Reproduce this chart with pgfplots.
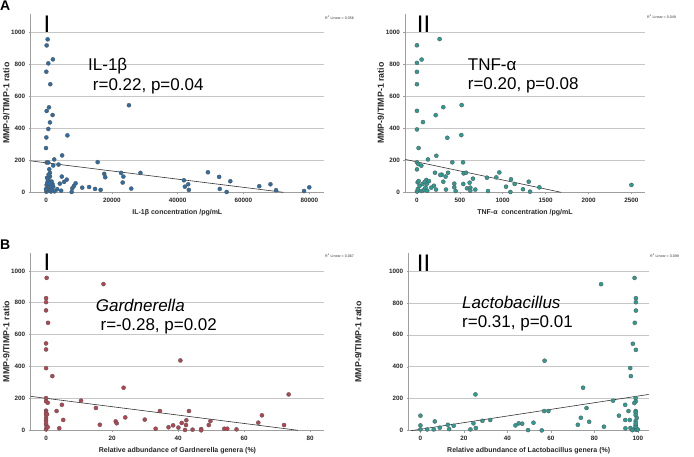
\documentclass[border=0pt]{standalone}
\usepackage{pgfplots}
\pgfplotsset{compat=1.18}
\usepackage{fontspec}
\setmainfont{Liberation Sans}
\definecolor{ptblue}{HTML}{2A6EA8}
\definecolor{ptteal}{HTML}{2A9D94}
\definecolor{ptred}{HTML}{B8434F}
\pgfplotsset{
  spss/.style={
    scale only axis,
    anchor=south west,
    axis x line*=bottom, axis y line*=left,
    axis line style={gray!75, line width=0.6pt},
    ymin=0, ymax=1112,
    ytick={0,200,400,600,800,1000},
    ymajorgrids, grid style={gray!45, line width=0.6pt},
    tick align=outside, major tick length=2pt, tick style={gray!75, line width=0.5pt},
    /pgf/number format/assume math mode=true,
    ticklabel style={font=\fontsize{6.3}{7}\selectfont\bfseries, text=black!85},
    xticklabel style={/pgf/number format/fixed,/pgf/number format/1000 sep={}},
    yticklabel style={/pgf/number format/1000 sep={}},
    scaled ticks=false,
    label style={font=\fontsize{7}{8}\selectfont\bfseries, text=black!85},
    ylabel style={at={(axis description cs:0,0.5)}, anchor=center, yshift=24.5pt, font=\fontsize{8.8}{9}\selectfont\bfseries},
    ylabel={MMP-9/TIMP-1 ratio},
    clip=false,
  },
  pts/.style={only marks, mark=*, mark size=2.05pt, mark options={fill=#1, draw=black!65, line width=0.35pt}},
  fit/.style={black!80, line width=0.6pt, no marks},
}
\begin{document}
\begin{tikzpicture}[x=1pt,y=1pt]
% ---------------- A-I ----------------
\begin{axis}[spss, at={(30.7pt,263.7pt)}, width=293.3pt, height=178.3pt,
  xmin=-4650, xmax=84470, xtick={0,20000,40000,60000,80000},
  xlabel={IL-1β concentration /pg/mL}]
\addplot[fit] coordinates {(-4650,196) (72100,0)};
\addplot[pts=ptblue] coordinates {
(500,954) (200,916) (700,804) (2100,829) (100,752) (1300,674) (200,507) (900,530)
(2000,482) (1200,436) (700,395) (100,342) (0,276) (6500,355) (25200,543) (200,186)
(700,186) (4900,230) (2500,205) (3800,173) (2200,167) (1000,144) (1200,121) (15700,188)
(17700,115) (18000,94) (22800,121) (23500,98) (28700,121) (23300,61) (25900,23) (4800,98)
(6300,79) (4200,54) (5500,65) (9000,56) (8500,40) (8000,25) (7800,2) (11000,29)
(13100,33) (14900,21) (16600,15) (3400,19) (4600,10) (2600,6)
(200,46) (500,25) (700,80) (1200,98) (1700,67) (1000,10) (100,4) (2200,35) (400,60)
(900,40) (1400,31) (2000,50) (300,15) (600,70) (1500,5) (800,110) (0,20) (300,90)
(1100,55) (1800,15)
(41900,75) (42200,35) (43200,50) (43400,15) (49200,125) (52600,96) (52800,21) (54900,2)
(56000,69) (64800,38) (68200,50) (69900,13) (78400,8) (80000,31)
};
\end{axis}
% ---------------- A-II ----------------
\begin{axis}[spss, at={(405.3pt,263.7pt)}, width=239.4pt, height=178.3pt,
  xmin=-136, xmax=2655, xtick={0,500,1000,1500,2000,2500},
  xlabel={TNF-α\ \ concentration /pg/mL}]
\addplot[fit] coordinates {(-136,205) (1680,0)};
\addplot[pts=ptteal] coordinates {
(264,956) (0,917) (0,807) (54,828) (0,751) (0,674) (0,508) (307,531) (521,544) (218,481)
(70,438) (0,392) (19,276) (517,357) (354,340) (226,228) (128,205) (0,187) (16,176) (51,166)
(0,143) (412,187) (537,187) (210,122) (288,110) (362,122) (334,98) (307,66) (272,108)
(544,118) (572,122) (960,124) (1096,81) (1139,52) (1038,35) (816,91) (925,93) (653,85)
(614,60) (540,52) (435,54) (435,31) (198,41) (109,77) (117,54) (66,52) (8,62) (16,12)
(58,8) (167,29) (222,17) (338,17) (451,8) (583,25) (622,29) (680,17) (828,8) (1089,2)
(1236,19) (1303,66) (1318,4) (1427,31) (2500,46) (622,10)
(0,5) (10,20) (30,40) (80,15) (100,30) (120,10) (140,70) (20,70) (90,65)
};
\end{axis}
% ---------------- B-I ----------------
\begin{axis}[spss, at={(30.7pt,25.7pt)}, width=293.6pt, height=177.3pt,
  xmin=-4.65, xmax=84.3, xtick={0,20,40,60,80},
  xlabel={Relative adbundance of Gardnerella genera (\%)}]
\addplot[fit] coordinates {(-4.65,213) (76.3,0)};
\addplot[pts=ptred] coordinates {
(0.2,956) (17.4,917) (0,829) (0,804) (0,752) (0.6,674) (0,545) (0,507) (0,390) (1.9,340)
(40.7,438) (23.5,267) (73.5,225) (0,202) (0,182) (0.5,173) (10.6,186) (15.1,140) (4.8,160)
(3.2,121) (0,123) (0,113) (0,98) (0,77) (0,61) (0,35) (0.2,19) (0,6) (5.2,65) (4,13)
(16.3,35) (21.1,56) (21.4,44) (24,81) (29.9,67) (33.2,10) (34.5,121) (37.1,19) (38.5,31)
(40.1,17) (41.1,46) (42.5,63) (42.4,33) (42.1,2) (43.3,121) (44.4,4) (47,8) (47,0)
(49.3,33) (49.8,58) (54,10) (54.9,10) (57.7,6) (64.3,48) (65.4,94) (72.1,33)
(0.5,20) (0,45) (0.3,100)
};
\end{axis}
% ---------------- B-II ----------------
\begin{axis}[spss, at={(408.7pt,25.3pt)}, width=240pt, height=177.7pt,
  xmin=-5.4, xmax=105, xtick={0,20,40,60,80,100},
  xlabel={Relative adbundance of Lactobacillus genera (\%)},
  ylabel style={yshift=26pt}]
\addplot[fit] coordinates {(-4.3,0) (105,227)};
\addplot[pts=ptteal] coordinates {
(98.5,956) (83.1,917) (99.1,829) (99.1,804) (99.1,752) (98.6,675) (97.7,544) (99.1,506)
(96.5,392) (96.8,342) (57.1,438) (74.8,269) (25.3,227) (88.6,188) (99,204) (99,183)
(98.4,173) (94.2,162) (56.9,123) (58.9,123) (76.4,142) (95.7,123) (99,123) (99,113)
(99,98) (99,60) (99,35) (99,15) (91.3,94) (94.2,67) (96.3,67) (77.6,56) (73.8,81)
(72.4,37) (84.4,25) (94.3,15) (96.6,17) (0,94) (0,33) (0,8) (3.1,8) (6.6,58) (6.1,8)
(8.9,19) (12.6,37) (13.2,10) (15.3,31) (23,8) (24.4,46) (25.5,17) (28.5,62) (32.1,67)
(43.7,33) (45.2,46) (46.8,44) (49.5,4) (52,50) (55.8,2)
(98.5,10) (99.5,5) (100,8) (97.5,3) (99,25) (99,45) (99.5,80)
};
\end{axis}
% ---------------- texts ----------------
\node[anchor=north west, font=\fontsize{14}{15}\selectfont\bfseries, inner sep=0pt] at (0pt,455pt) {A};
\node[anchor=north west, font=\fontsize{14}{15}\selectfont\bfseries, inner sep=0pt] at (0pt,216pt) {B};
\tikzset{bigI/.style={anchor=base, font=\fontsize{24}{25}\selectfont, inner sep=0pt},
         big/.style={anchor=base west, font=\fontsize{17}{18}\selectfont, inner sep=0pt},
         rsq/.style={anchor=west, font=\fontsize{3.6}{4}\selectfont, inner sep=0pt, text=black!80}}
\node[bigI] at (47pt,423pt) {I};
\node[bigI] at (423.5pt,423pt) {II};
\node[bigI] at (47pt,185.5pt) {I};
\node[bigI] at (423.5pt,185pt) {II};
\node[big] at (88pt,385.3pt) {IL-1β};
\node[big] at (88pt,365.3pt) {\ r=0.22, p=0.04};
\node[big] at (467.7pt,385.3pt) {TNF-α};
\node[big] at (467.7pt,366.7pt) {r=0.20, p=0.08};
\node[big] at (95.7pt,144.7pt) {\itshape Gardnerella};
\node[big] at (95.7pt,125.7pt) {\ r=-0.28, p=0.02};
\node[big] at (462pt,148pt) {\itshape Lactobacillus};
\node[big] at (462pt,129pt) {r=0.31, p=0.01};
\node[rsq] at (325pt,438pt) {R\textsuperscript{2} Linear = 0.056};
\node[rsq] at (647pt,439pt) {R\textsuperscript{2} Linear = 0.049};
\node[rsq] at (325pt,200pt) {R\textsuperscript{2} Linear = 0.067};
\node[rsq] at (650pt,200pt) {R\textsuperscript{2} Linear = 0.099};
\pgfresetboundingbox
\path[use as bounding box] (0pt,0pt) rectangle (694pt,456pt);
\end{tikzpicture}
\end{document}
